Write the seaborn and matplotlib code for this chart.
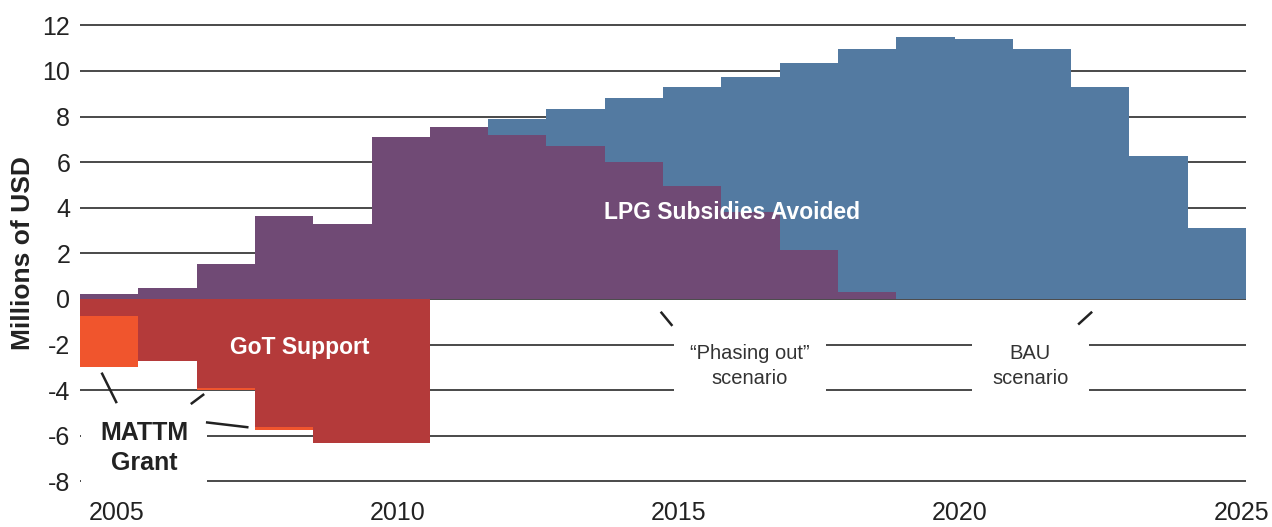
import matplotlib
matplotlib.use("Agg")
import matplotlib.pyplot as plt
import seaborn as sns
from matplotlib import font_manager

# values in millions of USD, one bar per year (2005-2024)
years = list(range(2005, 2025))
bau_scenario = [0.2, 0.5, 1.55, 3.65, 3.3, 7.1, 7.55, 7.9, 8.35, 8.8,
                9.3, 9.75, 10.35, 10.95, 11.5, 11.4, 10.95, 9.3, 6.25, 3.1]
phasing_out = [0.2, 0.5, 1.55, 3.65, 3.3, 7.1, 7.55, 7.2, 6.7, 6.0,
               4.95, 3.8, 2.15, 0.3, 0, 0, 0, 0, 0, 0]
got_support = [-0.75, -2.7, -3.9, -5.63, -6.33, -6.33, 0, 0, 0, 0,
               0, 0, 0, 0, 0, 0, 0, 0, 0, 0]
mattm_grant = [-2.25, 0, -0.1, -0.12, 0, 0, 0, 0, 0, 0,
               0, 0, 0, 0, 0, 0, 0, 0, 0, 0]
year_labels = ["2005", "2010", "2015", "2020", "2025"]
y_ticks = [-8, -6, -4, -2, 0, 2, 4, 6, 8, 10, 12]

c_blue = "#537aa1"
c_purple = "#704a75"
c_red = "#b43a3a"
c_orange = "#f0552d"

# a narrow face if there is one, otherwise smaller Liberation Sans
names = {f.name for f in font_manager.fontManager.ttflist}
if "Liberation Sans Narrow" in names:
    base_font, k = "Liberation Sans Narrow", 1.2
else:
    base_font, k = "Liberation Sans", 1.0

sns.set_style("white")
plt.rcParams["font.family"] = [base_font, "DejaVu Sans"]
plt.rcParams["axes.unicode_minus"] = False

fig = plt.figure(figsize=(12.72, 5.27), dpi=100)
ax = fig.add_axes([0.0629, 0.0801, 0.9167, 0.8782])

grant_total = [g + m for g, m in zip(got_support, mattm_grant)]

common = dict(width=1.0, saturation=1, errorbar=None, linewidth=0, ax=ax)
sns.barplot(x=years, y=bau_scenario, color=c_blue, **common)
sns.barplot(x=years, y=phasing_out, color=c_purple, **common)
sns.barplot(x=years, y=grant_total, color=c_orange, **common)
sns.barplot(x=years, y=got_support, color=c_red, **common)

ax.set_xlim(-0.5, len(years) - 0.5)
ax.set_ylim(-8.15, 12.15)
ax.set_yticks(y_ticks)
ax.set_yticklabels([str(v) for v in y_ticks], fontsize=18, color="#222222")
# label positions as placed in the original layout
ax.set_xticks([0.12, 4.94, 9.76, 14.59, 19.43])
ax.set_xticklabels(year_labels, fontsize=18, color="#222222")
ax.tick_params(axis="y", length=0, pad=7)
ax.tick_params(axis="x", length=0, pad=12)

ax.set_axisbelow(True)
ax.yaxis.grid(True, color="#3a3a3a", linewidth=1.3)
ax.xaxis.grid(False)
for s in ax.spines.values():
    s.set_visible(False)

ax.set_ylabel("Millions of USD", fontsize=19 * k, fontweight="bold", color="#222222")
ax.yaxis.set_label_coords(-0.0386, 0.5)

ax.text(3.27, -2.15, "GoT Support", color="white", fontsize=16.5 * k,
        fontweight="bold", ha="center", va="center", zorder=5)
ax.text(10.68, 3.8, "LPG Subsidies Avoided", color="white", fontsize=16.5 * k,
        fontweight="bold", ha="center", va="center", zorder=5)

box = dict(boxstyle="square,pad=0.8", fc="white", ec="none")
ax.text(0.6, -6.55, "MATTM\nGrant", color="#222222", fontsize=18 * k,
        fontweight="bold", ha="center", va="center", linespacing=1.3,
        bbox=dict(boxstyle="square,pad=0.75", fc="white", ec="none"), zorder=4)
ax.text(10.99, -2.94, "\u201cPhasing out\u201d\nscenario", color="#333333",
        fontsize=14.5 * k, ha="center", va="center", linespacing=1.35,
        bbox=box, zorder=4)
ax.text(15.8, -2.94, "BAU\nscenario", color="#333333",
        fontsize=14.5 * k, ha="center", va="center", linespacing=1.35,
        bbox=dict(boxstyle="square,pad=1.0", fc="white", ec="none"), zorder=4)

leaders = [
    ((-0.13, 0.13), (-3.23, -4.57)),
    ((1.40, 1.63), (-4.61, -4.17)),
    ((1.66, 2.39), (-5.41, -5.63)),
    ((9.46, 9.66), (-0.56, -1.18)),
    ((16.86, 16.62), (-0.56, -1.12)),
]
for xs, ys in leaders:
    ax.plot(xs, ys, color="#222222", linewidth=1.8, solid_capstyle="butt",
            zorder=6, clip_on=False)

fig.savefig("out.png", dpi=100)
